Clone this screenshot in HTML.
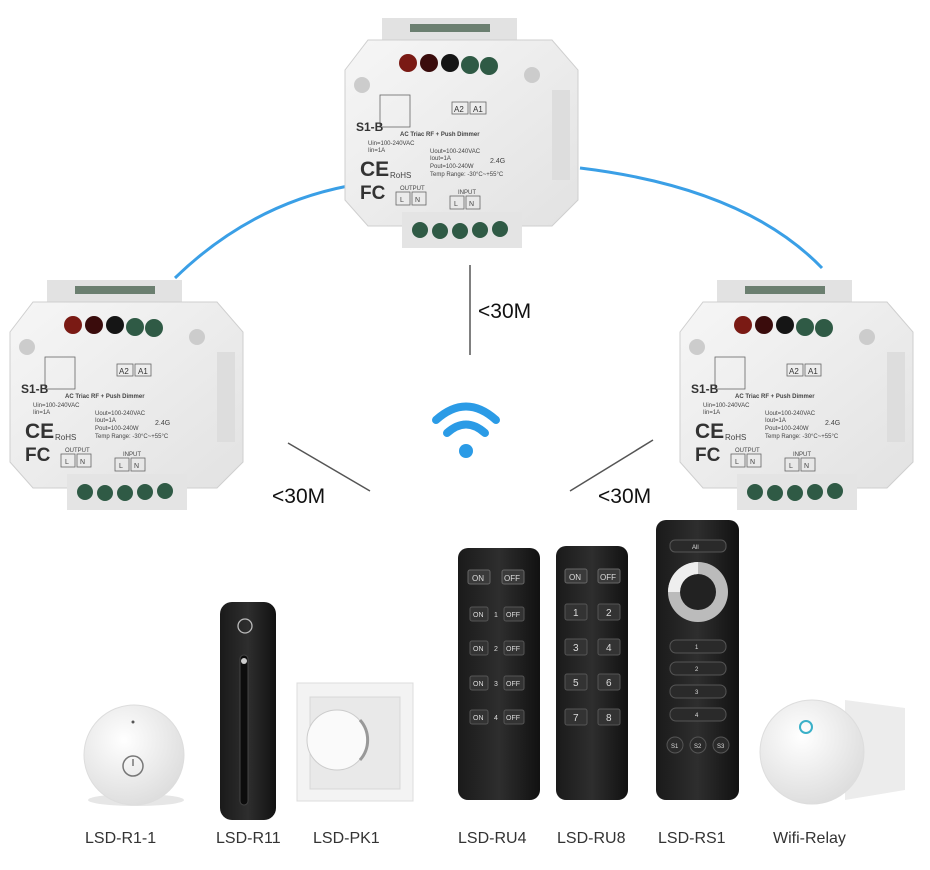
<!DOCTYPE html>
<html><head><meta charset="utf-8"><style>
html,body{margin:0;padding:0;background:#fff}
svg{display:block}
text{font-family:"Liberation Sans",sans-serif}
</style></head><body>
<svg width="930" height="870" viewBox="0 0 930 870" xmlns="http://www.w3.org/2000/svg">
<defs>
<linearGradient id="bd" x1="0" y1="0" x2="1" y2="1"><stop offset="0" stop-color="#f6f6f6"/><stop offset="1" stop-color="#e2e2e2"/></linearGradient>
<linearGradient id="blk" x1="0" y1="0" x2="1" y2="0"><stop offset="0" stop-color="#1a1a1a"/><stop offset=".5" stop-color="#2e2e2e"/><stop offset="1" stop-color="#111"/></linearGradient>
<radialGradient id="rnd" cx=".4" cy=".35" r=".7"><stop offset="0" stop-color="#fff"/><stop offset="1" stop-color="#dcdcdc"/></radialGradient>
</defs>

<path d="M175,278 Q250,205 348,186" stroke="#3a9fe6" stroke-width="3" fill="none"/>
<path d="M580,168 Q745,188 822,268" stroke="#3a9fe6" stroke-width="3" fill="none"/>

<g transform="translate(340,0)">
 <rect x="42" y="18" width="135" height="28" fill="#e2e2e2"/>
 <rect x="70" y="24" width="80" height="8" fill="#6b7f70"/>
 <polygon points="28,40 212,40 238,70 238,200 212,226 28,226 5,200 5,70" fill="url(#bd)" stroke="#cfcfcf"/>
 <rect x="212" y="90" width="18" height="90" fill="#ddd"/>
 <circle cx="22" cy="85" r="8" fill="#ccc"/><circle cx="192" cy="75" r="8" fill="#ccc"/>
 <circle cx="68" cy="63" r="9" fill="#7a1a14"/><circle cx="89" cy="63" r="9" fill="#3a0c0c"/><circle cx="110" cy="63" r="9" fill="#151515"/><circle cx="130" cy="65" r="9" fill="#2f5a45"/><circle cx="149" cy="66" r="9" fill="#2f5a45"/>
 <rect x="62" y="212" width="120" height="36" fill="#e4e4e4"/>
 <circle cx="80" cy="230" r="8" fill="#2f5a45"/><circle cx="100" cy="231" r="8" fill="#2f5a45"/><circle cx="120" cy="231" r="8" fill="#2f5a45"/><circle cx="140" cy="230" r="8" fill="#2f5a45"/><circle cx="160" cy="229" r="8" fill="#2f5a45"/>
 <rect x="40" y="95" width="30" height="32" fill="none" stroke="#666" stroke-width=".8"/>
 <rect x="112" y="102" width="16" height="12" fill="none" stroke="#666" stroke-width=".8"/><text x="114" y="112" font-size="8" fill="#333">A2</text>
 <rect x="130" y="102" width="16" height="12" fill="none" stroke="#666" stroke-width=".8"/><text x="133" y="112" font-size="8" fill="#333">A1</text>
 <text x="16" y="131" font-size="12" font-weight="bold" fill="#333">S1-B</text>
 <text x="60" y="136" font-size="6" font-weight="bold" fill="#444">AC Triac RF + Push Dimmer</text>
 <text x="28" y="145" font-size="6" fill="#444">Uin=100-240VAC</text><text x="28" y="152" font-size="6" fill="#444">Iin=1A</text>
 <text x="90" y="153" font-size="6" fill="#444">Uout=100-240VAC</text><text x="90" y="160" font-size="6" fill="#444">Iout=1A</text><text x="90" y="168" font-size="6" fill="#444">Pout=100-240W</text><text x="90" y="176" font-size="6" fill="#444">Temp Range: -30°C~+55°C</text>
 <text x="150" y="163" font-size="7" fill="#444">2.4G</text>
 <text x="20" y="176" font-size="21" font-weight="bold" fill="#333">CE</text>
 <text x="50" y="178" font-size="8" fill="#444">RoHS</text>
 <text x="20" y="199" font-size="19" font-weight="bold" fill="#333">FC</text>
 <text x="60" y="190" font-size="6" fill="#444">OUTPUT</text>
 <rect x="56" y="192" width="14" height="13" fill="none" stroke="#666" stroke-width=".8"/><text x="60" y="202" font-size="7" fill="#444">L</text>
 <rect x="72" y="192" width="14" height="13" fill="none" stroke="#666" stroke-width=".8"/><text x="75" y="202" font-size="7" fill="#444">N</text>
 <text x="118" y="194" font-size="6" fill="#444">INPUT</text>
 <rect x="110" y="196" width="14" height="13" fill="none" stroke="#666" stroke-width=".8"/><text x="114" y="206" font-size="7" fill="#444">L</text>
 <rect x="126" y="196" width="14" height="13" fill="none" stroke="#666" stroke-width=".8"/><text x="129" y="206" font-size="7" fill="#444">N</text>
</g>

<g transform="translate(5,262)">
 <rect x="42" y="18" width="135" height="28" fill="#e2e2e2"/>
 <rect x="70" y="24" width="80" height="8" fill="#6b7f70"/>
 <polygon points="28,40 212,40 238,70 238,200 212,226 28,226 5,200 5,70" fill="url(#bd)" stroke="#cfcfcf"/>
 <rect x="212" y="90" width="18" height="90" fill="#ddd"/>
 <circle cx="22" cy="85" r="8" fill="#ccc"/><circle cx="192" cy="75" r="8" fill="#ccc"/>
 <circle cx="68" cy="63" r="9" fill="#7a1a14"/><circle cx="89" cy="63" r="9" fill="#3a0c0c"/><circle cx="110" cy="63" r="9" fill="#151515"/><circle cx="130" cy="65" r="9" fill="#2f5a45"/><circle cx="149" cy="66" r="9" fill="#2f5a45"/>
 <rect x="62" y="212" width="120" height="36" fill="#e4e4e4"/>
 <circle cx="80" cy="230" r="8" fill="#2f5a45"/><circle cx="100" cy="231" r="8" fill="#2f5a45"/><circle cx="120" cy="231" r="8" fill="#2f5a45"/><circle cx="140" cy="230" r="8" fill="#2f5a45"/><circle cx="160" cy="229" r="8" fill="#2f5a45"/>
 <rect x="40" y="95" width="30" height="32" fill="none" stroke="#666" stroke-width=".8"/>
 <rect x="112" y="102" width="16" height="12" fill="none" stroke="#666" stroke-width=".8"/><text x="114" y="112" font-size="8" fill="#333">A2</text>
 <rect x="130" y="102" width="16" height="12" fill="none" stroke="#666" stroke-width=".8"/><text x="133" y="112" font-size="8" fill="#333">A1</text>
 <text x="16" y="131" font-size="12" font-weight="bold" fill="#333">S1-B</text>
 <text x="60" y="136" font-size="6" font-weight="bold" fill="#444">AC Triac RF + Push Dimmer</text>
 <text x="28" y="145" font-size="6" fill="#444">Uin=100-240VAC</text><text x="28" y="152" font-size="6" fill="#444">Iin=1A</text>
 <text x="90" y="153" font-size="6" fill="#444">Uout=100-240VAC</text><text x="90" y="160" font-size="6" fill="#444">Iout=1A</text><text x="90" y="168" font-size="6" fill="#444">Pout=100-240W</text><text x="90" y="176" font-size="6" fill="#444">Temp Range: -30°C~+55°C</text>
 <text x="150" y="163" font-size="7" fill="#444">2.4G</text>
 <text x="20" y="176" font-size="21" font-weight="bold" fill="#333">CE</text>
 <text x="50" y="178" font-size="8" fill="#444">RoHS</text>
 <text x="20" y="199" font-size="19" font-weight="bold" fill="#333">FC</text>
 <text x="60" y="190" font-size="6" fill="#444">OUTPUT</text>
 <rect x="56" y="192" width="14" height="13" fill="none" stroke="#666" stroke-width=".8"/><text x="60" y="202" font-size="7" fill="#444">L</text>
 <rect x="72" y="192" width="14" height="13" fill="none" stroke="#666" stroke-width=".8"/><text x="75" y="202" font-size="7" fill="#444">N</text>
 <text x="118" y="194" font-size="6" fill="#444">INPUT</text>
 <rect x="110" y="196" width="14" height="13" fill="none" stroke="#666" stroke-width=".8"/><text x="114" y="206" font-size="7" fill="#444">L</text>
 <rect x="126" y="196" width="14" height="13" fill="none" stroke="#666" stroke-width=".8"/><text x="129" y="206" font-size="7" fill="#444">N</text>
</g>

<g transform="translate(675,262)">
 <rect x="42" y="18" width="135" height="28" fill="#e2e2e2"/>
 <rect x="70" y="24" width="80" height="8" fill="#6b7f70"/>
 <polygon points="28,40 212,40 238,70 238,200 212,226 28,226 5,200 5,70" fill="url(#bd)" stroke="#cfcfcf"/>
 <rect x="212" y="90" width="18" height="90" fill="#ddd"/>
 <circle cx="22" cy="85" r="8" fill="#ccc"/><circle cx="192" cy="75" r="8" fill="#ccc"/>
 <circle cx="68" cy="63" r="9" fill="#7a1a14"/><circle cx="89" cy="63" r="9" fill="#3a0c0c"/><circle cx="110" cy="63" r="9" fill="#151515"/><circle cx="130" cy="65" r="9" fill="#2f5a45"/><circle cx="149" cy="66" r="9" fill="#2f5a45"/>
 <rect x="62" y="212" width="120" height="36" fill="#e4e4e4"/>
 <circle cx="80" cy="230" r="8" fill="#2f5a45"/><circle cx="100" cy="231" r="8" fill="#2f5a45"/><circle cx="120" cy="231" r="8" fill="#2f5a45"/><circle cx="140" cy="230" r="8" fill="#2f5a45"/><circle cx="160" cy="229" r="8" fill="#2f5a45"/>
 <rect x="40" y="95" width="30" height="32" fill="none" stroke="#666" stroke-width=".8"/>
 <rect x="112" y="102" width="16" height="12" fill="none" stroke="#666" stroke-width=".8"/><text x="114" y="112" font-size="8" fill="#333">A2</text>
 <rect x="130" y="102" width="16" height="12" fill="none" stroke="#666" stroke-width=".8"/><text x="133" y="112" font-size="8" fill="#333">A1</text>
 <text x="16" y="131" font-size="12" font-weight="bold" fill="#333">S1-B</text>
 <text x="60" y="136" font-size="6" font-weight="bold" fill="#444">AC Triac RF + Push Dimmer</text>
 <text x="28" y="145" font-size="6" fill="#444">Uin=100-240VAC</text><text x="28" y="152" font-size="6" fill="#444">Iin=1A</text>
 <text x="90" y="153" font-size="6" fill="#444">Uout=100-240VAC</text><text x="90" y="160" font-size="6" fill="#444">Iout=1A</text><text x="90" y="168" font-size="6" fill="#444">Pout=100-240W</text><text x="90" y="176" font-size="6" fill="#444">Temp Range: -30°C~+55°C</text>
 <text x="150" y="163" font-size="7" fill="#444">2.4G</text>
 <text x="20" y="176" font-size="21" font-weight="bold" fill="#333">CE</text>
 <text x="50" y="178" font-size="8" fill="#444">RoHS</text>
 <text x="20" y="199" font-size="19" font-weight="bold" fill="#333">FC</text>
 <text x="60" y="190" font-size="6" fill="#444">OUTPUT</text>
 <rect x="56" y="192" width="14" height="13" fill="none" stroke="#666" stroke-width=".8"/><text x="60" y="202" font-size="7" fill="#444">L</text>
 <rect x="72" y="192" width="14" height="13" fill="none" stroke="#666" stroke-width=".8"/><text x="75" y="202" font-size="7" fill="#444">N</text>
 <text x="118" y="194" font-size="6" fill="#444">INPUT</text>
 <rect x="110" y="196" width="14" height="13" fill="none" stroke="#666" stroke-width=".8"/><text x="114" y="206" font-size="7" fill="#444">L</text>
 <rect x="126" y="196" width="14" height="13" fill="none" stroke="#666" stroke-width=".8"/><text x="129" y="206" font-size="7" fill="#444">N</text>
</g>

<line x1="470" y1="265" x2="470" y2="355" stroke="#555" stroke-width="1.5"/>
<text x="478" y="318" font-size="21" fill="#111">&lt;30M</text>
<line x1="288" y1="443" x2="370" y2="491" stroke="#555" stroke-width="1.5"/>
<text x="272" y="503" font-size="21" fill="#111">&lt;30M</text>
<line x1="570" y1="491" x2="653" y2="440" stroke="#555" stroke-width="1.5"/>
<text x="598" y="503" font-size="21" fill="#111">&lt;30M</text>

<g fill="none" stroke="#2b9be6" stroke-width="8" stroke-linecap="round">
<path d="M436,420 Q466,393 496,420"/>
<path d="M447,433 Q466,416 485,433"/>
</g>
<circle cx="466" cy="451" r="7" fill="#2b9be6"/>

<ellipse cx="136" cy="800" rx="48" ry="6" fill="#e6e6e6"/>
<circle cx="134" cy="755" r="50" fill="url(#rnd)" stroke="#ddd"/>
<circle cx="133" cy="766" r="10" fill="none" stroke="#777" stroke-width="1.5"/>
<line x1="133" y1="759" x2="133" y2="766" stroke="#777" stroke-width="1.5"/>
<circle cx="133" cy="722" r="1.5" fill="#555"/>

<rect x="220" y="602" width="56" height="218" rx="12" fill="url(#blk)"/>
<circle cx="245" cy="626" r="7" fill="none" stroke="#bbb" stroke-width="1.3"/>
<rect x="240" y="655" width="8" height="150" rx="4" fill="#0c0c0c" stroke="#444"/>
<circle cx="244" cy="661" r="3" fill="#ccc"/>

<rect x="297" y="683" width="116" height="118" fill="#f3f3f3" stroke="#ddd"/>
<rect x="310" y="697" width="90" height="92" fill="#e9e9e9" stroke="#d8d8d8"/>
<circle cx="337" cy="740" r="30" fill="#fafafa" stroke="#ccc"/>
<path d="M360,720 A30,30 0 0 1 360,760" stroke="#999" stroke-width="3" fill="none"/>

<rect x="458" y="548" width="82" height="252" rx="10" fill="url(#blk)"/>
<rect x="468" y="570" width="22" height="14" rx="2" fill="#3a3a3a" stroke="#666"/><text x="472" y="581" font-size="8" fill="#ddd">ON</text>
<rect x="502" y="570" width="22" height="14" rx="2" fill="#3a3a3a" stroke="#666"/><text x="504" y="581" font-size="8" fill="#ddd">OFF</text>
<g font-size="7" fill="#ddd">
<rect x="470" y="607" width="18" height="14" rx="2" fill="#333" stroke="#555"/><text x="473" y="617">ON</text><text x="494" y="617">1</text><rect x="504" y="607" width="20" height="14" rx="2" fill="#333" stroke="#555"/><text x="506" y="617">OFF</text>
<rect x="470" y="641" width="18" height="14" rx="2" fill="#333" stroke="#555"/><text x="473" y="651">ON</text><text x="494" y="651">2</text><rect x="504" y="641" width="20" height="14" rx="2" fill="#333" stroke="#555"/><text x="506" y="651">OFF</text>
<rect x="470" y="676" width="18" height="14" rx="2" fill="#333" stroke="#555"/><text x="473" y="686">ON</text><text x="494" y="686">3</text><rect x="504" y="676" width="20" height="14" rx="2" fill="#333" stroke="#555"/><text x="506" y="686">OFF</text>
<rect x="470" y="710" width="18" height="14" rx="2" fill="#333" stroke="#555"/><text x="473" y="720">ON</text><text x="494" y="720">4</text><rect x="504" y="710" width="20" height="14" rx="2" fill="#333" stroke="#555"/><text x="506" y="720">OFF</text>
</g>

<rect x="556" y="546" width="72" height="254" rx="10" fill="url(#blk)"/>
<rect x="565" y="569" width="22" height="14" rx="2" fill="#3a3a3a" stroke="#666"/><text x="569" y="580" font-size="8" fill="#ddd">ON</text>
<rect x="598" y="569" width="22" height="14" rx="2" fill="#3a3a3a" stroke="#666"/><text x="600" y="580" font-size="8" fill="#ddd">OFF</text>
<g font-size="10" fill="#ddd">
<rect x="565" y="604" width="22" height="16" rx="2" fill="#333" stroke="#555"/><text x="573" y="616">1</text><rect x="598" y="604" width="22" height="16" rx="2" fill="#333" stroke="#555"/><text x="606" y="616">2</text>
<rect x="565" y="639" width="22" height="16" rx="2" fill="#333" stroke="#555"/><text x="573" y="651">3</text><rect x="598" y="639" width="22" height="16" rx="2" fill="#333" stroke="#555"/><text x="606" y="651">4</text>
<rect x="565" y="674" width="22" height="16" rx="2" fill="#333" stroke="#555"/><text x="573" y="686">5</text><rect x="598" y="674" width="22" height="16" rx="2" fill="#333" stroke="#555"/><text x="606" y="686">6</text>
<rect x="565" y="709" width="22" height="16" rx="2" fill="#333" stroke="#555"/><text x="573" y="721">7</text><rect x="598" y="709" width="22" height="16" rx="2" fill="#333" stroke="#555"/><text x="606" y="721">8</text>
</g>

<rect x="656" y="520" width="83" height="280" rx="10" fill="url(#blk)"/>
<rect x="670" y="540" width="56" height="12" rx="5" fill="#2a2a2a" stroke="#555"/><text x="692" y="549" font-size="6" fill="#ddd">All</text>
<circle cx="698" cy="592" r="30" fill="#bbb"/>
<circle cx="698" cy="592" r="18" fill="#222"/>
<path d="M668,592 A30,30 0 0 1 698,562 L698,574 A18,18 0 0 0 680,592 Z" fill="#eee"/>
<g fill="#2a2a2a" stroke="#555">
<rect x="670" y="640" width="56" height="13" rx="6"/><rect x="670" y="662" width="56" height="13" rx="6"/><rect x="670" y="685" width="56" height="13" rx="6"/><rect x="670" y="708" width="56" height="13" rx="6"/>
<circle cx="675" cy="745" r="8"/><circle cx="698" cy="745" r="8"/><circle cx="721" cy="745" r="8"/>
</g>
<g font-size="6" fill="#ddd"><text x="695" y="649">1</text><text x="695" y="671">2</text><text x="695" y="694">3</text><text x="695" y="717">4</text>
<text x="671" y="748">S1</text><text x="694" y="748">S2</text><text x="717" y="748">S3</text></g>

<path d="M845,700 L905,708 L905,790 L845,800 Z" fill="#ececec"/>
<circle cx="812" cy="752" r="52" fill="url(#rnd)" stroke="#ddd"/>
<circle cx="806" cy="727" r="6" fill="none" stroke="#3ab0c8" stroke-width="2"/>

<g font-size="16" fill="#333">
<text x="85" y="843">LSD-R1-1</text>
<text x="216" y="843">LSD-R11</text>
<text x="313" y="843">LSD-PK1</text>
<text x="458" y="843">LSD-RU4</text>
<text x="557" y="843">LSD-RU8</text>
<text x="658" y="843">LSD-RS1</text>
<text x="773" y="843">Wifi-Relay</text>
</g>
</svg>
</body></html>
